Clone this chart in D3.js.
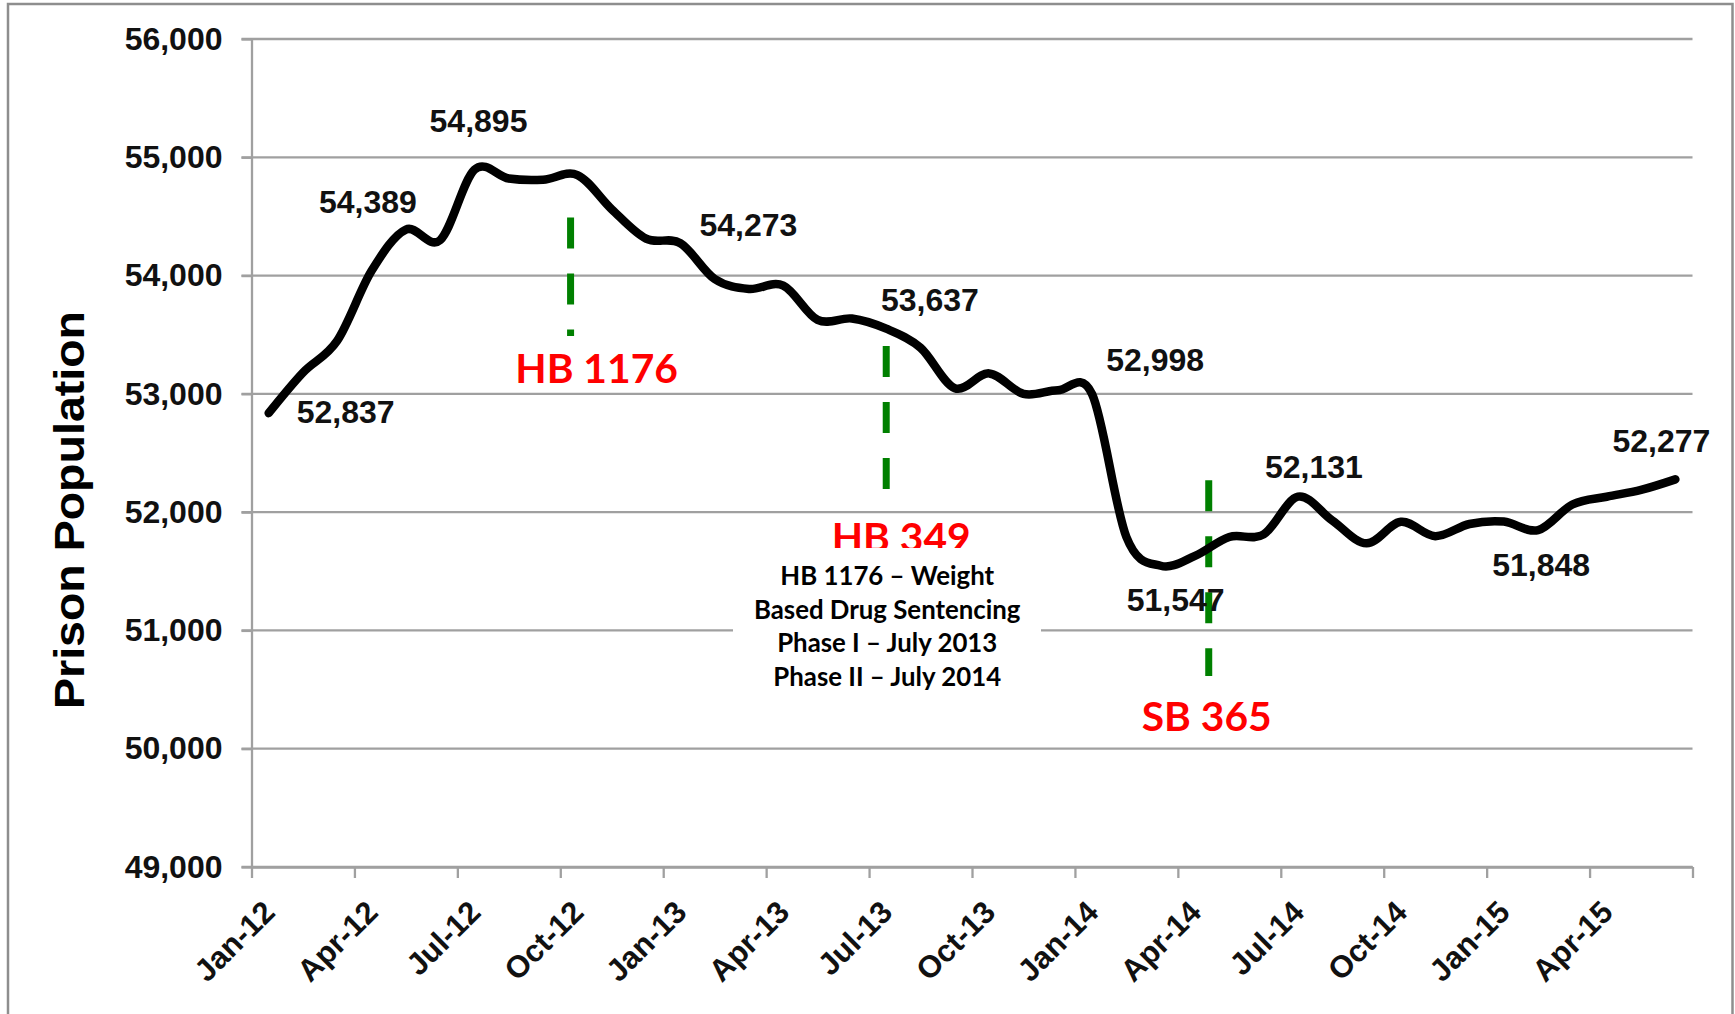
<!DOCTYPE html>
<html>
<head>
<meta charset="utf-8">
<script src="https://cdn.jsdelivr.net/npm/d3@7"></script>
<style>
  html, body { margin: 0; padding: 0; background: #fff; }
  svg { display: block; }
</style>
</head>
<body>
<svg id="chart" width="1735" height="1014"></svg>
<script>
// ---------------- DATA ----------------
const months = ["Jan-12","Feb-12","Mar-12","Apr-12","May-12","Jun-12","Jul-12","Aug-12","Sep-12","Oct-12","Nov-12","Dec-12",
                "Jan-13","Feb-13","Mar-13","Apr-13","May-13","Jun-13","Jul-13","Aug-13","Sep-13","Oct-13","Nov-13","Dec-13",
                "Jan-14","Feb-14","Mar-14","Apr-14","May-14","Jun-14","Jul-14","Aug-14","Sep-14","Oct-14","Nov-14","Dec-14",
                "Jan-15","Feb-15","Mar-15","Apr-15","May-15","Jun-15"];

const population = [52837,53180,53450,54040,54389,54300,54895,54820,54810,54850,54560,54312,
                    54273,53971,53887,53915,53625,53637,53551,53390,53048,53173,53000,53030,
                    52998,51790,51547,51630,51790,51812,52131,51930,51736,51918,51797,51900,
                    51920,51848,52065,52130,52188,52277];

const xTickLabels = ["Jan-12","Apr-12","Jul-12","Oct-12","Jan-13","Apr-13","Jul-13","Oct-13",
                     "Jan-14","Apr-14","Jul-14","Oct-14","Jan-15","Apr-15"];
const yTicks = [49000,50000,51000,52000,53000,54000,55000,56000];

// months whose values carry a data label
const labeledMonths = ["Jan-12","May-12","Jul-12","Jan-13","Jun-13","Jan-14","Mar-14","Jul-14","Feb-15","Jun-15"];

// legislation markers (month position as fractional month index, vertical span in population units)
const lawNames  = ["HB 1176","HB 349","SB 365"];
const lawMonth  = [8.8, 18, 27.4];
const lawTop    = [54490, 53405, 52270];
const lawBottom = [53490, 52180, 50615];

const noteLines = ["HB 1176 \u2013 Weight","Based Drug Sentencing","Phase I \u2013 July 2013","Phase II \u2013 July 2014"];

// ---------------- LAYOUT ----------------
const labelOffsets = [[77,10],[-38,-17],[4,-38],[68,-7],[78,-8],[63,-23],[15,45],[16,-19],[3,46],[-14,-27]];
const lawLabelOffsets = [[26,47],[15,61],[-2,55]];

const svg = d3.select("#chart");
const plot = {left: 251.5, right: 1692.5, top: 39, bottom: 867};

const x = d3.scaleLinear().domain([-0.5, months.length - 0.5]).range([plot.left, plot.right]);
const y = d3.scaleLinear().domain([49000, 56000]).range([plot.bottom, plot.top]);

const gridColor = "#a0a0a0";
const tickFont = "'Liberation Sans', Arial, sans-serif";
const numSize = 32;

// outer border (left, top, right)
svg.append("path")
  .attr("d", `M8,1014 L8,4 L1732.5,4 L1732.5,1014`)
  .attr("fill", "none").attr("stroke", "#8e8e8e").attr("stroke-width", 2.5);

// gridlines
svg.append("g").selectAll("line").data(yTicks).join("line")
  .attr("x1", plot.left - 10).attr("x2", plot.right)
  .attr("y1", d => y(d)).attr("y2", d => y(d))
  .attr("stroke", gridColor).attr("stroke-width", 2.3);

// y axis
const yAxis = svg.append("g").attr("transform", `translate(${plot.left},0)`)
  .call(d3.axisLeft(y).tickValues(yTicks).tickFormat(d3.format(",")).tickSizeInner(10).tickSizeOuter(0).tickPadding(19));
yAxis.select(".domain").attr("stroke", gridColor).attr("stroke-width", 2.3);
yAxis.selectAll(".tick line").attr("stroke", gridColor).attr("stroke-width", 2.3);
yAxis.selectAll(".tick text")
  .attr("font-family", tickFont).attr("font-size", numSize).attr("font-weight", "bold").attr("fill", "#111");

// x axis (tick marks at quarter boundaries)
const xAxis = svg.append("g").attr("transform", `translate(0,${plot.bottom})`)
  .call(d3.axisBottom(x).tickValues(d3.range(-0.5, months.length, 3)).tickFormat("").tickSizeInner(11).tickSizeOuter(0));
xAxis.select(".domain").attr("stroke", gridColor).attr("stroke-width", 2.3);
xAxis.selectAll(".tick line").attr("stroke", gridColor).attr("stroke-width", 2.3);

// x tick labels (rotated)
svg.append("g").selectAll("text").data(xTickLabels).join("text")
  .attr("transform", d => `translate(${x(months.indexOf(d)) + 8},${plot.bottom + 47}) rotate(-45)`)
  .attr("text-anchor", "end")
  .attr("font-family", tickFont).attr("font-size", 31).attr("font-weight", "bold").attr("fill", "#111")
  .text(d => d);

// y title
svg.append("text")
  .attr("transform", `translate(84,${(310 + 710) / 2}) rotate(-90)`)
  .attr("text-anchor", "middle")
  .attr("font-family", tickFont).attr("font-size", 42).attr("font-weight", "bold").attr("fill", "#000")
  .attr("textLength", 398).attr("lengthAdjust", "spacingAndGlyphs")
  .text("Prison Population");

// green dashed legislation markers
svg.append("g").selectAll("line").data(lawNames).join("line")
  .attr("x1", (d, i) => x(lawMonth[i])).attr("x2", (d, i) => x(lawMonth[i]))
  .attr("y1", (d, i) => y(lawTop[i])).attr("y2", (d, i) => y(lawBottom[i]))
  .attr("stroke", "#008000").attr("stroke-width", 7).attr("stroke-dasharray", "31,25");

// red legislation labels
const redFont = "Lato, 'Open Sans', sans-serif";
const redLabels = svg.append("g").selectAll("text").data(lawNames).join("text")
  .attr("x", (d, i) => x(lawMonth[i]) + lawLabelOffsets[i][0])
  .attr("y", (d, i) => y(lawBottom[i]) + lawLabelOffsets[i][1])
  .attr("text-anchor", "middle")
  .attr("font-family", redFont).attr("font-weight", "bold").attr("font-size", 40).attr("fill", "#ff0000")
  .text(d => d);
{
  const w = redLabels.filter((d, i) => i === 0).node().getComputedTextLength();
  redLabels.attr("font-size", 40 * 162.7 / w);
}

// white note box (covers part of HB 349 label and gridline)
const noteCx = x(lawMonth[1]) + 1;
svg.append("rect")
  .attr("x", 733).attr("y", 548).attr("width", 308).attr("height", 157)
  .attr("fill", "#fff");

const noteText = svg.append("g").selectAll("text").data(noteLines).join("text")
  .attr("x", noteCx)
  .attr("y", (d, i) => 585 + i * 33.5)
  .attr("text-anchor", "middle")
  .attr("font-family", redFont).attr("font-weight", "bold").attr("font-size", 26).attr("fill", "#000")
  .text(d => d);
{
  const w = noteText.filter((d, i) => i === 1).node().getComputedTextLength();
  noteText.attr("font-size", 26 * 266.7 / w);
}

// the population line
const line = d3.line()
  .x((d, i) => x(i))
  .y(d => y(d))
  .curve(d3.curveCardinal.tension(0));
svg.append("path")
  .datum(population)
  .attr("d", line)
  .attr("fill", "none").attr("stroke", "#000").attr("stroke-width", 8.5)
  .attr("stroke-linejoin", "round").attr("stroke-linecap", "round");

// data labels
const fmt = d3.format(",");
svg.append("g").selectAll("text").data(labeledMonths).join("text")
  .attr("x", (d, k) => x(months.indexOf(d)) + labelOffsets[k][0])
  .attr("y", (d, k) => y(population[months.indexOf(d)]) + labelOffsets[k][1])
  .attr("text-anchor", "middle")
  .attr("font-family", tickFont).attr("font-size", numSize).attr("font-weight", "bold").attr("fill", "#111")
  .text(d => fmt(population[months.indexOf(d)]));
</script>
</body>
</html>
